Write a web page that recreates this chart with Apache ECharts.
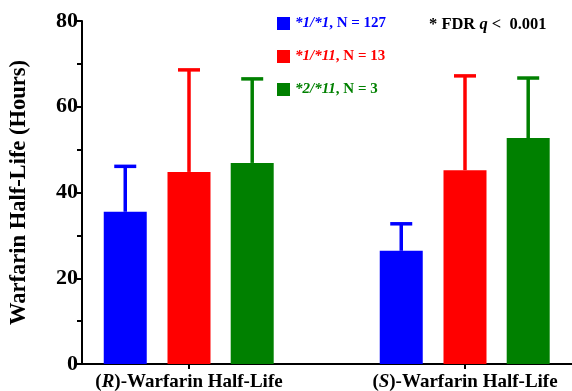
<!DOCTYPE html>
<html>
<head>
<meta charset="utf-8">
<script src="https://cdn.jsdelivr.net/npm/echarts@6/dist/echarts.min.js"></script>
<style>html,body{margin:0;padding:0;background:#fff}#c{width:572px;height:391px}</style>
</head>
<body>
<div id="c"></div>
<script>
// ---- data ----
const categories = ['R', 'S'];                 // x positions 0 and 1
const genotypes = ['*1/*1', '*1/*11', '*2/*11'];
const counts = [127, 13, 3];
const colors = ['#0000ff', '#ff0000', '#008000'];
const meanWT = [35.5, 26.4];
const upperWT = [46.1, 32.7];
const meanHet = [44.8, 45.2];
const upperHet = [68.6, 67.2];
const meanVar = [46.9, 52.7];
const upperVar = [66.5, 66.7];
const yTicks = [0, 20, 40, 60, 80];

const means = [meanWT, meanHet, meanVar];
const uppers = [upperWT, upperHet, upperVar];
const offsets = [-0.231, 0, 0.229];
const FONT = '"Liberation Serif", "Times New Roman", serif';

const chart = echarts.init(document.getElementById('c'));

const series = genotypes.map((g, si) => ({
  name: g,
  type: 'custom',
  itemStyle: { color: colors[si] },
  data: categories.map((c, ci) => [ci + offsets[si], means[si][ci], uppers[si][ci]]),
  renderItem: function (params, api) {
    const x = api.value(0), m = api.value(1), u = api.value(2);
    const p0 = api.coord([x, 0]);
    const pm = api.coord([x, m]);
    const pu = api.coord([x, u]);
    const bw = 43, cw = 22;
    const col = colors[si];
    return {
      type: 'group',
      children: [
        { type: 'line', shape: { x1: pm[0], y1: pm[1], x2: pu[0], y2: pu[1] },
          style: { stroke: col, lineWidth: 3.5 } },
        { type: 'line', shape: { x1: pu[0] - cw / 2, y1: pu[1], x2: pu[0] + cw / 2, y2: pu[1] },
          style: { stroke: col, lineWidth: 3.5 } },
        { type: 'rect', shape: { x: pm[0] - bw / 2, y: pm[1], width: bw, height: p0[1] - pm[1] },
          style: { fill: col } }
      ]
    };
  }
}));

const legendRich = {};
colors.forEach((c, i) => {
  legendRich['i' + i] = { color: c, fontStyle: 'italic', fontWeight: 'bold', fontSize: 15, fontFamily: FONT };
  legendRich['n' + i] = { color: c, fontWeight: 'bold', fontSize: 15, fontFamily: FONT };
});

chart.setOption({
  animation: false,
  grid: { left: 82, right: 0, top: 21, bottom: 27, containLabel: false, outerBoundsMode: 'none' },
  title: {
    text: '{n|* FDR }{i|q}{n| <  0.001}',
    left: 424, top: 11,
    textStyle: {
      rich: {
        n: { fontWeight: 'bold', fontSize: 16.5, fontFamily: FONT, color: '#000' },
        i: { fontWeight: 'bold', fontStyle: 'italic', fontSize: 16.5, fontFamily: FONT, color: '#000' }
      }
    }
  },
  legend: {
    orient: 'vertical',
    left: 272, top: 11,
    icon: 'rect',
    itemWidth: 13, itemHeight: 13,
    itemGap: 18,
    data: genotypes.map((g, i) => ({ name: g })),
    formatter: function (name) {
      const i = genotypes.indexOf(name);
      return '{i' + i + '|' + name + '}{n' + i + '|, N = ' + counts[i] + '}';
    },
    textStyle: { rich: legendRich }
  },
  xAxis: {
    type: 'value',
    min: -0.3877, max: 1.3877,
    axisLine: { show: true, onZero: false, lineStyle: { color: '#000', width: 2 } },
    axisTick: { show: true, customValues: [0, 1], length: 5, lineStyle: { color: '#000', width: 2 } },
    splitLine: { show: false },
    axisLabel: {
      customValues: [0, 1],
      margin: 9,
      formatter: function (v) {
        const c = categories[Math.round(v)];
        return '{p|(}{i|' + c + '}{p|)-Warfarin Half-Life}';
      },
      rich: {
        p: { fontWeight: 'bold', fontSize: 19, fontFamily: FONT, color: '#000' },
        i: { fontWeight: 'bold', fontStyle: 'italic', fontSize: 19, fontFamily: FONT, color: '#000' }
      }
    }
  },
  yAxis: {
    type: 'value',
    min: 0, max: 80, interval: 20,
    name: 'Warfarin Half-Life (Hours)',
    nameLocation: 'middle',
    nameGap: 51,
    nameTextStyle: { fontWeight: 'bold', fontSize: 22.5, fontFamily: FONT, color: '#000' },
    axisLine: { show: true, onZero: false, lineStyle: { color: '#000', width: 2 } },
    axisTick: { show: true, length: 5, lineStyle: { color: '#000', width: 2 } },
    minorTick: { show: true, splitNumber: 2, length: 5, lineStyle: { color: '#000', width: 2 } },
    splitLine: { show: false },
    axisLabel: {
      margin: 4,
      fontWeight: 'bold', fontSize: 22, fontFamily: FONT, color: '#000',
      formatter: function (v) { return yTicks.indexOf(v) >= 0 ? String(v) : ''; }
    }
  },
  series: series
});
</script>
</body>
</html>
